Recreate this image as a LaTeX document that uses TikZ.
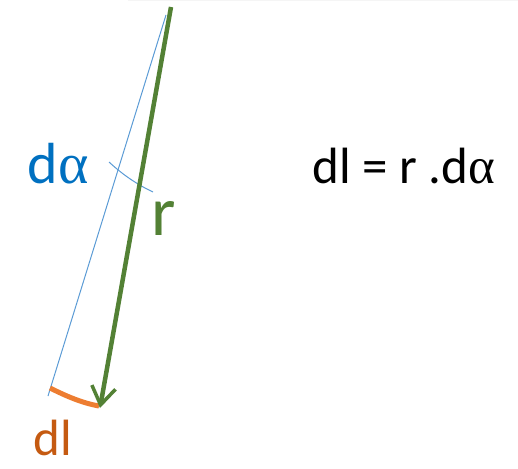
\documentclass[tikz,border=0pt]{standalone}
\usepackage{fontspec}
\setmainfont{Carlito}
\newfontfamily\greekfont{Liberation Serif}
\usetikzlibrary{arrows.meta}
\definecolor{lblue}{HTML}{0070C0}
\definecolor{lineblue}{HTML}{5B9BD5}
\definecolor{rgreen}{HTML}{538135}
\definecolor{arcorange}{HTML}{ED7D31}
\definecolor{dlorange}{HTML}{C55A11}
\tikzset{
  lbl/.style={inner sep=0pt, anchor=base},
  thinblue/.style={draw=lineblue, line width=1pt},
}
\begin{document}
\begin{tikzpicture}[x=1pt,y=-1pt]
\useasboundingbox (0,0) rectangle (518,468);
\fill[black!4] (128,0) rectangle (518,1.5);
\coordinate (gtop) at (171,7);
\coordinate (gtip) at (100,408);
\coordinate (btop) at (166,15);
\coordinate (bbot) at (48,396);
\coordinate (aa) at (109,162);
\coordinate (ab) at (153,192);
\coordinate (oa) at (50,388);
\coordinate (ob) at (99,406);
% blue line and angle mark
\draw[thinblue] (btop) -- (bbot);
\draw[thinblue] (aa) .. controls (123,175) and (138,185) .. (ab);
% orange arc
\draw[arcorange, line width=5pt] (oa) .. controls (66,396) and (82,403) .. (ob);
% green arrow
\draw[rgreen, line width=4.5pt, -{Straight Barb[length=18pt,width=24pt,line width=3.5pt]}] (gtop) -- (gtip);
% labels
\node[lbl, text=lblue, font=\fontsize{58}{60}\selectfont] (da) at (58,183) {d{\greekfont α}};
\node[lbl, text=rgreen, font=\fontsize{70}{72}\selectfont] (r) at (164,235) {r};
\node[lbl, text=dlorange, font=\fontsize{51}{52}\selectfont] (dl) at (53,455) {dl};
\node[lbl, text=black, font=\fontsize{51}{52}\selectfont] (eq) at (404,183) {dl = r .d{\greekfont α}};
\end{tikzpicture}
\end{document}
